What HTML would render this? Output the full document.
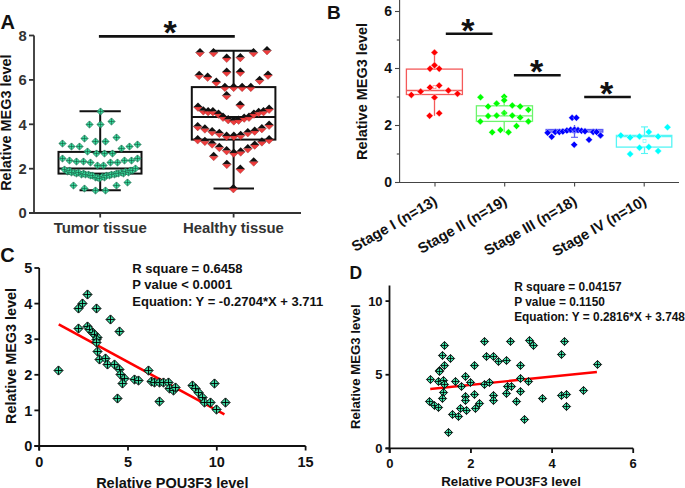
<!DOCTYPE html>
<html><head><meta charset="utf-8"><style>
html,body{margin:0;padding:0;background:#fff;}
svg{display:block;}
</style></head><body>
<svg width="685" height="488" viewBox="0 0 685 488" font-family="'Liberation Sans', sans-serif" font-weight="bold">
<rect width="685" height="488" fill="#fff"/>
<text x="0.6" y="28.8" font-size="20" text-anchor="start" fill="#111" >A</text>
<line x1="34" y1="35.5" x2="34" y2="213.8" stroke="#333" stroke-width="1.8" />
<line x1="29" y1="213.1" x2="34" y2="213.1" stroke="#333" stroke-width="1.8" />
<text x="26.8" y="218.29999999999998" font-size="14.8" text-anchor="end" fill="#333" >0</text>
<line x1="29" y1="168.7" x2="34" y2="168.7" stroke="#333" stroke-width="1.8" />
<text x="26.8" y="173.89999999999998" font-size="14.8" text-anchor="end" fill="#333" >2</text>
<line x1="29" y1="124.3" x2="34" y2="124.3" stroke="#333" stroke-width="1.8" />
<text x="26.8" y="129.5" font-size="14.8" text-anchor="end" fill="#333" >4</text>
<line x1="29" y1="79.9" x2="34" y2="79.9" stroke="#333" stroke-width="1.8" />
<text x="26.8" y="85.10000000000001" font-size="14.8" text-anchor="end" fill="#333" >6</text>
<line x1="29" y1="35.5" x2="34" y2="35.5" stroke="#333" stroke-width="1.8" />
<text x="26.8" y="40.7" font-size="14.8" text-anchor="end" fill="#333" >8</text>
<line x1="29" y1="213" x2="301" y2="213" stroke="#333" stroke-width="1.8" />
<line x1="100.2" y1="213" x2="100.2" y2="217.5" stroke="#333" stroke-width="1.8" />
<line x1="233.6" y1="213" x2="233.6" y2="217.5" stroke="#333" stroke-width="1.8" />
<text x="100.2" y="233.3" font-size="15" text-anchor="middle" fill="#333" >Tumor tissue</text>
<text x="233.4" y="233.2" font-size="14.9" text-anchor="middle" fill="#333" >Healthy tissue</text>
<text transform="translate(11.4,122.6) rotate(-90)" font-size="14.45" text-anchor="middle" fill="#111">Relative MEG3 level</text>
<line x1="98.9" y1="36.4" x2="234.8" y2="36.4" stroke="#111" stroke-width="2.8" />
<text x="170" y="43.7" font-size="34" text-anchor="middle" fill="#111" >*</text>
<rect x="58.5" y="151.9" width="83" height="21.7" fill="none" stroke="#111" stroke-width="2"/>
<line x1="58.5" y1="168.6" x2="141.5" y2="168.6" stroke="#111" stroke-width="2" />
<line x1="100.2" y1="111.3" x2="100.2" y2="151.9" stroke="#111" stroke-width="2" />
<line x1="100.2" y1="173.6" x2="100.2" y2="190.2" stroke="#111" stroke-width="2" />
<line x1="79.5" y1="111.3" x2="120.8" y2="111.3" stroke="#111" stroke-width="2" />
<line x1="79.5" y1="190.2" x2="120.8" y2="190.2" stroke="#111" stroke-width="2" />
<rect x="191.8" y="87.1" width="83.6" height="52.5" fill="none" stroke="#111" stroke-width="2"/>
<line x1="191.8" y1="117.1" x2="275.4" y2="117.1" stroke="#111" stroke-width="2" />
<line x1="233.6" y1="50.8" x2="233.6" y2="87.1" stroke="#111" stroke-width="2" />
<line x1="233.6" y1="139.6" x2="233.6" y2="188.5" stroke="#111" stroke-width="2" />
<line x1="213.5" y1="50.8" x2="254" y2="50.8" stroke="#111" stroke-width="2" />
<line x1="213.5" y1="188.5" x2="254" y2="188.5" stroke="#111" stroke-width="2" />
<polygon points="64.5,165.9 68.1,169.5 64.5,173.1 60.9,169.5" fill="#36db9c" stroke="#1d6e50" stroke-width="0.7"/>
<path d="M61.3 169.5H67.7M64.5 166.3V172.7" stroke="#1a5540" stroke-width="0.6"/>
<polygon points="67.5,167.9 71.1,171.5 67.5,175.1 63.9,171.5" fill="#36db9c" stroke="#1d6e50" stroke-width="0.7"/>
<path d="M64.3 171.5H70.7M67.5 168.3V174.7" stroke="#1a5540" stroke-width="0.6"/>
<polygon points="69.5,166.9 73.1,170.5 69.5,174.1 65.9,170.5" fill="#36db9c" stroke="#1d6e50" stroke-width="0.7"/>
<path d="M66.3 170.5H72.7M69.5 167.3V173.7" stroke="#1a5540" stroke-width="0.6"/>
<polygon points="71.5,168.9 75.1,172.5 71.5,176.1 67.9,172.5" fill="#36db9c" stroke="#1d6e50" stroke-width="0.7"/>
<path d="M68.3 172.5H74.7M71.5 169.3V175.7" stroke="#1a5540" stroke-width="0.6"/>
<polygon points="74.5,168.9 78.1,172.5 74.5,176.1 70.9,172.5" fill="#36db9c" stroke="#1d6e50" stroke-width="0.7"/>
<path d="M71.3 172.5H77.7M74.5 169.3V175.7" stroke="#1a5540" stroke-width="0.6"/>
<polygon points="76.5,169.9 80.1,173.5 76.5,177.1 72.9,173.5" fill="#36db9c" stroke="#1d6e50" stroke-width="0.7"/>
<path d="M73.3 173.5H79.7M76.5 170.3V176.7" stroke="#1a5540" stroke-width="0.6"/>
<polygon points="78.5,168.9 82.1,172.5 78.5,176.1 74.9,172.5" fill="#36db9c" stroke="#1d6e50" stroke-width="0.7"/>
<path d="M75.3 172.5H81.7M78.5 169.3V175.7" stroke="#1a5540" stroke-width="0.6"/>
<polygon points="81.5,170.9 85.1,174.5 81.5,178.1 77.9,174.5" fill="#36db9c" stroke="#1d6e50" stroke-width="0.7"/>
<path d="M78.3 174.5H84.7M81.5 171.3V177.7" stroke="#1a5540" stroke-width="0.6"/>
<polygon points="83.5,169.9 87.1,173.5 83.5,177.1 79.9,173.5" fill="#36db9c" stroke="#1d6e50" stroke-width="0.7"/>
<path d="M80.3 173.5H86.7M83.5 170.3V176.7" stroke="#1a5540" stroke-width="0.6"/>
<polygon points="85.5,170.9 89.1,174.5 85.5,178.1 81.9,174.5" fill="#36db9c" stroke="#1d6e50" stroke-width="0.7"/>
<path d="M82.3 174.5H88.7M85.5 171.3V177.7" stroke="#1a5540" stroke-width="0.6"/>
<polygon points="88.5,170.9 92.1,174.5 88.5,178.1 84.9,174.5" fill="#36db9c" stroke="#1d6e50" stroke-width="0.7"/>
<path d="M85.3 174.5H91.7M88.5 171.3V177.7" stroke="#1a5540" stroke-width="0.6"/>
<polygon points="90.5,171.9 94.1,175.5 90.5,179.1 86.9,175.5" fill="#36db9c" stroke="#1d6e50" stroke-width="0.7"/>
<path d="M87.3 175.5H93.7M90.5 172.3V178.7" stroke="#1a5540" stroke-width="0.6"/>
<polygon points="92.5,171.9 96.1,175.5 92.5,179.1 88.9,175.5" fill="#36db9c" stroke="#1d6e50" stroke-width="0.7"/>
<path d="M89.3 175.5H95.7M92.5 172.3V178.7" stroke="#1a5540" stroke-width="0.6"/>
<polygon points="95.5,173.9 99.1,177.5 95.5,181.1 91.9,177.5" fill="#36db9c" stroke="#1d6e50" stroke-width="0.7"/>
<path d="M92.3 177.5H98.7M95.5 174.3V180.7" stroke="#1a5540" stroke-width="0.6"/>
<polygon points="97.5,173.9 101.1,177.5 97.5,181.1 93.9,177.5" fill="#36db9c" stroke="#1d6e50" stroke-width="0.7"/>
<path d="M94.3 177.5H100.7M97.5 174.3V180.7" stroke="#1a5540" stroke-width="0.6"/>
<polygon points="99.5,174.9 103.1,178.5 99.5,182.1 95.9,178.5" fill="#36db9c" stroke="#1d6e50" stroke-width="0.7"/>
<path d="M96.3 178.5H102.7M99.5 175.3V181.7" stroke="#1a5540" stroke-width="0.6"/>
<polygon points="102.5,172.9 106.1,176.5 102.5,180.1 98.9,176.5" fill="#36db9c" stroke="#1d6e50" stroke-width="0.7"/>
<path d="M99.3 176.5H105.7M102.5 173.3V179.7" stroke="#1a5540" stroke-width="0.6"/>
<polygon points="104.5,173.9 108.1,177.5 104.5,181.1 100.9,177.5" fill="#36db9c" stroke="#1d6e50" stroke-width="0.7"/>
<path d="M101.3 177.5H107.7M104.5 174.3V180.7" stroke="#1a5540" stroke-width="0.6"/>
<polygon points="106.5,171.9 110.1,175.5 106.5,179.1 102.9,175.5" fill="#36db9c" stroke="#1d6e50" stroke-width="0.7"/>
<path d="M103.3 175.5H109.7M106.5 172.3V178.7" stroke="#1a5540" stroke-width="0.6"/>
<polygon points="109.5,171.9 113.1,175.5 109.5,179.1 105.9,175.5" fill="#36db9c" stroke="#1d6e50" stroke-width="0.7"/>
<path d="M106.3 175.5H112.7M109.5 172.3V178.7" stroke="#1a5540" stroke-width="0.6"/>
<polygon points="111.5,170.9 115.1,174.5 111.5,178.1 107.9,174.5" fill="#36db9c" stroke="#1d6e50" stroke-width="0.7"/>
<path d="M108.3 174.5H114.7M111.5 171.3V177.7" stroke="#1a5540" stroke-width="0.6"/>
<polygon points="114.5,170.9 118.1,174.5 114.5,178.1 110.9,174.5" fill="#36db9c" stroke="#1d6e50" stroke-width="0.7"/>
<path d="M111.3 174.5H117.7M114.5 171.3V177.7" stroke="#1a5540" stroke-width="0.6"/>
<polygon points="116.5,169.9 120.1,173.5 116.5,177.1 112.9,173.5" fill="#36db9c" stroke="#1d6e50" stroke-width="0.7"/>
<path d="M113.3 173.5H119.7M116.5 170.3V176.7" stroke="#1a5540" stroke-width="0.6"/>
<polygon points="118.5,169.9 122.1,173.5 118.5,177.1 114.9,173.5" fill="#36db9c" stroke="#1d6e50" stroke-width="0.7"/>
<path d="M115.3 173.5H121.7M118.5 170.3V176.7" stroke="#1a5540" stroke-width="0.6"/>
<polygon points="121.5,168.9 125.1,172.5 121.5,176.1 117.9,172.5" fill="#36db9c" stroke="#1d6e50" stroke-width="0.7"/>
<path d="M118.3 172.5H124.7M121.5 169.3V175.7" stroke="#1a5540" stroke-width="0.6"/>
<polygon points="123.5,169.9 127.1,173.5 123.5,177.1 119.9,173.5" fill="#36db9c" stroke="#1d6e50" stroke-width="0.7"/>
<path d="M120.3 173.5H126.7M123.5 170.3V176.7" stroke="#1a5540" stroke-width="0.6"/>
<polygon points="125.5,167.9 129.1,171.5 125.5,175.1 121.9,171.5" fill="#36db9c" stroke="#1d6e50" stroke-width="0.7"/>
<path d="M122.3 171.5H128.7M125.5 168.3V174.7" stroke="#1a5540" stroke-width="0.6"/>
<polygon points="128.5,168.9 132.1,172.5 128.5,176.1 124.9,172.5" fill="#36db9c" stroke="#1d6e50" stroke-width="0.7"/>
<path d="M125.3 172.5H131.7M128.5 169.3V175.7" stroke="#1a5540" stroke-width="0.6"/>
<polygon points="130.5,166.9 134.1,170.5 130.5,174.1 126.9,170.5" fill="#36db9c" stroke="#1d6e50" stroke-width="0.7"/>
<path d="M127.3 170.5H133.7M130.5 167.3V173.7" stroke="#1a5540" stroke-width="0.6"/>
<polygon points="132.5,166.9 136.1,170.5 132.5,174.1 128.9,170.5" fill="#36db9c" stroke="#1d6e50" stroke-width="0.7"/>
<path d="M129.3 170.5H135.7M132.5 167.3V173.7" stroke="#1a5540" stroke-width="0.6"/>
<polygon points="135.5,164.9 139.1,168.5 135.5,172.1 131.9,168.5" fill="#36db9c" stroke="#1d6e50" stroke-width="0.7"/>
<path d="M132.3 168.5H138.7M135.5 165.3V171.7" stroke="#1a5540" stroke-width="0.6"/>
<polygon points="100.5,107.9 104.1,111.5 100.5,115.1 96.9,111.5" fill="#36db9c" stroke="#1d6e50" stroke-width="0.7"/>
<path d="M97.3 111.5H103.7M100.5 108.3V114.7" stroke="#1a5540" stroke-width="0.6"/>
<polygon points="89.5,120.9 93.1,124.5 89.5,128.1 85.9,124.5" fill="#36db9c" stroke="#1d6e50" stroke-width="0.7"/>
<path d="M86.3 124.5H92.7M89.5 121.3V127.7" stroke="#1a5540" stroke-width="0.6"/>
<polygon points="100.5,120.9 104.1,124.5 100.5,128.1 96.9,124.5" fill="#36db9c" stroke="#1d6e50" stroke-width="0.7"/>
<path d="M97.3 124.5H103.7M100.5 121.3V127.7" stroke="#1a5540" stroke-width="0.6"/>
<polygon points="111.5,117.9 115.1,121.5 111.5,125.1 107.9,121.5" fill="#36db9c" stroke="#1d6e50" stroke-width="0.7"/>
<path d="M108.3 121.5H114.7M111.5 118.3V124.7" stroke="#1a5540" stroke-width="0.6"/>
<polygon points="84.5,134.9 88.1,138.5 84.5,142.1 80.9,138.5" fill="#36db9c" stroke="#1d6e50" stroke-width="0.7"/>
<path d="M81.3 138.5H87.7M84.5 135.3V141.7" stroke="#1a5540" stroke-width="0.6"/>
<polygon points="95.5,137.9 99.1,141.5 95.5,145.1 91.9,141.5" fill="#36db9c" stroke="#1d6e50" stroke-width="0.7"/>
<path d="M92.3 141.5H98.7M95.5 138.3V144.7" stroke="#1a5540" stroke-width="0.6"/>
<polygon points="105.5,137.9 109.1,141.5 105.5,145.1 101.9,141.5" fill="#36db9c" stroke="#1d6e50" stroke-width="0.7"/>
<path d="M102.3 141.5H108.7M105.5 138.3V144.7" stroke="#1a5540" stroke-width="0.6"/>
<polygon points="116.5,133.9 120.1,137.5 116.5,141.1 112.9,137.5" fill="#36db9c" stroke="#1d6e50" stroke-width="0.7"/>
<path d="M113.3 137.5H119.7M116.5 134.3V140.7" stroke="#1a5540" stroke-width="0.6"/>
<polygon points="62.5,139.9 66.1,143.5 62.5,147.1 58.9,143.5" fill="#36db9c" stroke="#1d6e50" stroke-width="0.7"/>
<path d="M59.3 143.5H65.7M62.5 140.3V146.7" stroke="#1a5540" stroke-width="0.6"/>
<polygon points="71.5,142.9 75.1,146.5 71.5,150.1 67.9,146.5" fill="#36db9c" stroke="#1d6e50" stroke-width="0.7"/>
<path d="M68.3 146.5H74.7M71.5 143.3V149.7" stroke="#1a5540" stroke-width="0.6"/>
<polygon points="79.5,142.9 83.1,146.5 79.5,150.1 75.9,146.5" fill="#36db9c" stroke="#1d6e50" stroke-width="0.7"/>
<path d="M76.3 146.5H82.7M79.5 143.3V149.7" stroke="#1a5540" stroke-width="0.6"/>
<polygon points="137.5,140.9 141.1,144.5 137.5,148.1 133.9,144.5" fill="#36db9c" stroke="#1d6e50" stroke-width="0.7"/>
<path d="M134.3 144.5H140.7M137.5 141.3V147.7" stroke="#1a5540" stroke-width="0.6"/>
<polygon points="129.5,142.9 133.1,146.5 129.5,150.1 125.9,146.5" fill="#36db9c" stroke="#1d6e50" stroke-width="0.7"/>
<path d="M126.3 146.5H132.7M129.5 143.3V149.7" stroke="#1a5540" stroke-width="0.6"/>
<polygon points="121.5,144.9 125.1,148.5 121.5,152.1 117.9,148.5" fill="#36db9c" stroke="#1d6e50" stroke-width="0.7"/>
<path d="M118.3 148.5H124.7M121.5 145.3V151.7" stroke="#1a5540" stroke-width="0.6"/>
<polygon points="87.5,147.9 91.1,151.5 87.5,155.1 83.9,151.5" fill="#36db9c" stroke="#1d6e50" stroke-width="0.7"/>
<path d="M84.3 151.5H90.7M87.5 148.3V154.7" stroke="#1a5540" stroke-width="0.6"/>
<polygon points="96.5,149.9 100.1,153.5 96.5,157.1 92.9,153.5" fill="#36db9c" stroke="#1d6e50" stroke-width="0.7"/>
<path d="M93.3 153.5H99.7M96.5 150.3V156.7" stroke="#1a5540" stroke-width="0.6"/>
<polygon points="104.5,149.9 108.1,153.5 104.5,157.1 100.9,153.5" fill="#36db9c" stroke="#1d6e50" stroke-width="0.7"/>
<path d="M101.3 153.5H107.7M104.5 150.3V156.7" stroke="#1a5540" stroke-width="0.6"/>
<polygon points="112.5,149.9 116.1,153.5 112.5,157.1 108.9,153.5" fill="#36db9c" stroke="#1d6e50" stroke-width="0.7"/>
<path d="M109.3 153.5H115.7M112.5 150.3V156.7" stroke="#1a5540" stroke-width="0.6"/>
<polygon points="62.5,154.9 66.1,158.5 62.5,162.1 58.9,158.5" fill="#36db9c" stroke="#1d6e50" stroke-width="0.7"/>
<path d="M59.3 158.5H65.7M62.5 155.3V161.7" stroke="#1a5540" stroke-width="0.6"/>
<polygon points="69.5,156.9 73.1,160.5 69.5,164.1 65.9,160.5" fill="#36db9c" stroke="#1d6e50" stroke-width="0.7"/>
<path d="M66.3 160.5H72.7M69.5 157.3V163.7" stroke="#1a5540" stroke-width="0.6"/>
<polygon points="76.5,157.9 80.1,161.5 76.5,165.1 72.9,161.5" fill="#36db9c" stroke="#1d6e50" stroke-width="0.7"/>
<path d="M73.3 161.5H79.7M76.5 158.3V164.7" stroke="#1a5540" stroke-width="0.6"/>
<polygon points="83.5,157.9 87.1,161.5 83.5,165.1 79.9,161.5" fill="#36db9c" stroke="#1d6e50" stroke-width="0.7"/>
<path d="M80.3 161.5H86.7M83.5 158.3V164.7" stroke="#1a5540" stroke-width="0.6"/>
<polygon points="90.5,158.9 94.1,162.5 90.5,166.1 86.9,162.5" fill="#36db9c" stroke="#1d6e50" stroke-width="0.7"/>
<path d="M87.3 162.5H93.7M90.5 159.3V165.7" stroke="#1a5540" stroke-width="0.6"/>
<polygon points="97.5,161.9 101.1,165.5 97.5,169.1 93.9,165.5" fill="#36db9c" stroke="#1d6e50" stroke-width="0.7"/>
<path d="M94.3 165.5H100.7M97.5 162.3V168.7" stroke="#1a5540" stroke-width="0.6"/>
<polygon points="103.5,161.9 107.1,165.5 103.5,169.1 99.9,165.5" fill="#36db9c" stroke="#1d6e50" stroke-width="0.7"/>
<path d="M100.3 165.5H106.7M103.5 162.3V168.7" stroke="#1a5540" stroke-width="0.6"/>
<polygon points="110.5,158.9 114.1,162.5 110.5,166.1 106.9,162.5" fill="#36db9c" stroke="#1d6e50" stroke-width="0.7"/>
<path d="M107.3 162.5H113.7M110.5 159.3V165.7" stroke="#1a5540" stroke-width="0.6"/>
<polygon points="117.5,158.9 121.1,162.5 117.5,166.1 113.9,162.5" fill="#36db9c" stroke="#1d6e50" stroke-width="0.7"/>
<path d="M114.3 162.5H120.7M117.5 159.3V165.7" stroke="#1a5540" stroke-width="0.6"/>
<polygon points="124.5,156.9 128.1,160.5 124.5,164.1 120.9,160.5" fill="#36db9c" stroke="#1d6e50" stroke-width="0.7"/>
<path d="M121.3 160.5H127.7M124.5 157.3V163.7" stroke="#1a5540" stroke-width="0.6"/>
<polygon points="131.5,156.9 135.1,160.5 131.5,164.1 127.9,160.5" fill="#36db9c" stroke="#1d6e50" stroke-width="0.7"/>
<path d="M128.3 160.5H134.7M131.5 157.3V163.7" stroke="#1a5540" stroke-width="0.6"/>
<polygon points="137.5,154.9 141.1,158.5 137.5,162.1 133.9,158.5" fill="#36db9c" stroke="#1d6e50" stroke-width="0.7"/>
<path d="M134.3 158.5H140.7M137.5 155.3V161.7" stroke="#1a5540" stroke-width="0.6"/>
<polygon points="73.5,181.9 77.1,185.5 73.5,189.1 69.9,185.5" fill="#36db9c" stroke="#1d6e50" stroke-width="0.7"/>
<path d="M70.3 185.5H76.7M73.5 182.3V188.7" stroke="#1a5540" stroke-width="0.6"/>
<polygon points="84.5,184.9 88.1,188.5 84.5,192.1 80.9,188.5" fill="#36db9c" stroke="#1d6e50" stroke-width="0.7"/>
<path d="M81.3 188.5H87.7M84.5 185.3V191.7" stroke="#1a5540" stroke-width="0.6"/>
<polygon points="95.5,186.9 99.1,190.5 95.5,194.1 91.9,190.5" fill="#36db9c" stroke="#1d6e50" stroke-width="0.7"/>
<path d="M92.3 190.5H98.7M95.5 187.3V193.7" stroke="#1a5540" stroke-width="0.6"/>
<polygon points="105.5,186.9 109.1,190.5 105.5,194.1 101.9,190.5" fill="#36db9c" stroke="#1d6e50" stroke-width="0.7"/>
<path d="M102.3 190.5H108.7M105.5 187.3V193.7" stroke="#1a5540" stroke-width="0.6"/>
<polygon points="116.5,181.9 120.1,185.5 116.5,189.1 112.9,185.5" fill="#36db9c" stroke="#1d6e50" stroke-width="0.7"/>
<path d="M113.3 185.5H119.7M116.5 182.3V188.7" stroke="#1a5540" stroke-width="0.6"/>
<polygon points="127.5,178.9 131.1,182.5 127.5,186.1 123.9,182.5" fill="#36db9c" stroke="#1d6e50" stroke-width="0.7"/>
<path d="M124.3 182.5H130.7M127.5 179.3V185.7" stroke="#1a5540" stroke-width="0.6"/>
<polygon points="195.5,52.5 200.0,48.0 204.5,52.5" fill="#111"/>
<polygon points="195.5,52.5 204.5,52.5 200.0,57.0" fill="#f03c3c" stroke="#7a2020" stroke-width="0.35"/>
<polygon points="209.0,52.5 213.5,48.0 218.0,52.5" fill="#111"/>
<polygon points="209.0,52.5 218.0,52.5 213.5,57.0" fill="#f03c3c" stroke="#7a2020" stroke-width="0.35"/>
<polygon points="222.2,58.1 226.7,53.6 231.2,58.1" fill="#111"/>
<polygon points="222.2,58.1 231.2,58.1 226.7,62.6" fill="#f03c3c" stroke="#7a2020" stroke-width="0.35"/>
<polygon points="235.8,57.4 240.3,52.9 244.8,57.4" fill="#111"/>
<polygon points="235.8,57.4 244.8,57.4 240.3,61.9" fill="#f03c3c" stroke="#7a2020" stroke-width="0.35"/>
<polygon points="249.0,52.5 253.5,48.0 258.0,52.5" fill="#111"/>
<polygon points="249.0,52.5 258.0,52.5 253.5,57.0" fill="#f03c3c" stroke="#7a2020" stroke-width="0.35"/>
<polygon points="262.5,50.4 267.0,45.9 271.5,50.4" fill="#111"/>
<polygon points="262.5,50.4 271.5,50.4 267.0,54.9" fill="#f03c3c" stroke="#7a2020" stroke-width="0.35"/>
<polygon points="194.7,75.3 199.2,70.8 203.7,75.3" fill="#111"/>
<polygon points="194.7,75.3 203.7,75.3 199.2,79.8" fill="#f03c3c" stroke="#7a2020" stroke-width="0.35"/>
<polygon points="203.1,77.0 207.6,72.5 212.1,77.0" fill="#111"/>
<polygon points="203.1,77.0 212.1,77.0 207.6,81.5" fill="#f03c3c" stroke="#7a2020" stroke-width="0.35"/>
<polygon points="211.8,82.0 216.3,77.5 220.8,82.0" fill="#111"/>
<polygon points="211.8,82.0 220.8,82.0 216.3,86.5" fill="#f03c3c" stroke="#7a2020" stroke-width="0.35"/>
<polygon points="222.2,72.1 226.7,67.6 231.2,72.1" fill="#111"/>
<polygon points="222.2,72.1 231.2,72.1 226.7,76.6" fill="#f03c3c" stroke="#7a2020" stroke-width="0.35"/>
<polygon points="235.8,72.1 240.3,67.6 244.8,72.1" fill="#111"/>
<polygon points="235.8,72.1 244.8,72.1 240.3,76.6" fill="#f03c3c" stroke="#7a2020" stroke-width="0.35"/>
<polygon points="255.1,80.2 259.6,75.7 264.1,80.2" fill="#111"/>
<polygon points="255.1,80.2 264.1,80.2 259.6,84.7" fill="#f03c3c" stroke="#7a2020" stroke-width="0.35"/>
<polygon points="263.5,75.0 268.0,70.5 272.5,75.0" fill="#111"/>
<polygon points="263.5,75.0 272.5,75.0 268.0,79.5" fill="#f03c3c" stroke="#7a2020" stroke-width="0.35"/>
<polygon points="220.4,87.2 224.9,82.7 229.4,87.2" fill="#111"/>
<polygon points="220.4,87.2 229.4,87.2 224.9,91.7" fill="#f03c3c" stroke="#7a2020" stroke-width="0.35"/>
<polygon points="229.2,87.2 233.7,82.7 238.2,87.2" fill="#111"/>
<polygon points="229.2,87.2 238.2,87.2 233.7,91.7" fill="#f03c3c" stroke="#7a2020" stroke-width="0.35"/>
<polygon points="237.6,87.2 242.1,82.7 246.6,87.2" fill="#111"/>
<polygon points="237.6,87.2 246.6,87.2 242.1,91.7" fill="#f03c3c" stroke="#7a2020" stroke-width="0.35"/>
<polygon points="246.3,87.2 250.8,82.7 255.3,87.2" fill="#111"/>
<polygon points="246.3,87.2 255.3,87.2 250.8,91.7" fill="#f03c3c" stroke="#7a2020" stroke-width="0.35"/>
<polygon points="222.1,95.4 226.6,90.9 231.1,95.4" fill="#111"/>
<polygon points="222.1,95.4 231.1,95.4 226.6,99.9" fill="#f03c3c" stroke="#7a2020" stroke-width="0.35"/>
<polygon points="235.7,105.1 240.2,100.6 244.7,105.1" fill="#111"/>
<polygon points="235.7,105.1 244.7,105.1 240.2,109.6" fill="#f03c3c" stroke="#7a2020" stroke-width="0.35"/>
<polygon points="193.5,107.0 198.0,102.5 202.5,107.0" fill="#111"/>
<polygon points="193.5,107.0 202.5,107.0 198.0,111.5" fill="#f03c3c" stroke="#7a2020" stroke-width="0.35"/>
<polygon points="198.8,110.7 203.3,106.2 207.8,110.7" fill="#111"/>
<polygon points="198.8,110.7 207.8,110.7 203.3,115.2" fill="#f03c3c" stroke="#7a2020" stroke-width="0.35"/>
<polygon points="203.6,111.5 208.1,107.0 212.6,111.5" fill="#111"/>
<polygon points="203.6,111.5 212.6,111.5 208.1,116.0" fill="#f03c3c" stroke="#7a2020" stroke-width="0.35"/>
<polygon points="208.4,111.5 212.9,107.0 217.4,111.5" fill="#111"/>
<polygon points="208.4,111.5 217.4,111.5 212.9,116.0" fill="#f03c3c" stroke="#7a2020" stroke-width="0.35"/>
<polygon points="214.0,113.9 218.5,109.4 223.0,113.9" fill="#111"/>
<polygon points="214.0,113.9 223.0,113.9 218.5,118.4" fill="#f03c3c" stroke="#7a2020" stroke-width="0.35"/>
<polygon points="218.5,117.1 223.0,112.6 227.5,117.1" fill="#111"/>
<polygon points="218.5,117.1 227.5,117.1 223.0,121.6" fill="#f03c3c" stroke="#7a2020" stroke-width="0.35"/>
<polygon points="223.7,119.5 228.2,115.0 232.7,119.5" fill="#111"/>
<polygon points="223.7,119.5 232.7,119.5 228.2,124.0" fill="#f03c3c" stroke="#7a2020" stroke-width="0.35"/>
<polygon points="229.3,120.7 233.8,116.2 238.3,120.7" fill="#111"/>
<polygon points="229.3,120.7 238.3,120.7 233.8,125.2" fill="#f03c3c" stroke="#7a2020" stroke-width="0.35"/>
<polygon points="234.1,120.0 238.6,115.5 243.1,120.0" fill="#111"/>
<polygon points="234.1,120.0 243.1,120.0 238.6,124.5" fill="#f03c3c" stroke="#7a2020" stroke-width="0.35"/>
<polygon points="239.7,117.9 244.2,113.4 248.7,117.9" fill="#111"/>
<polygon points="239.7,117.9 248.7,117.9 244.2,122.4" fill="#f03c3c" stroke="#7a2020" stroke-width="0.35"/>
<polygon points="244.5,117.1 249.0,112.6 253.5,117.1" fill="#111"/>
<polygon points="244.5,117.1 253.5,117.1 249.0,121.6" fill="#f03c3c" stroke="#7a2020" stroke-width="0.35"/>
<polygon points="249.4,113.9 253.9,109.4 258.4,113.9" fill="#111"/>
<polygon points="249.4,113.9 258.4,113.9 253.9,118.4" fill="#f03c3c" stroke="#7a2020" stroke-width="0.35"/>
<polygon points="254.2,112.3 258.7,107.8 263.2,112.3" fill="#111"/>
<polygon points="254.2,112.3 263.2,112.3 258.7,116.8" fill="#f03c3c" stroke="#7a2020" stroke-width="0.35"/>
<polygon points="259.0,111.5 263.5,107.0 268.0,111.5" fill="#111"/>
<polygon points="259.0,111.5 268.0,111.5 263.5,116.0" fill="#f03c3c" stroke="#7a2020" stroke-width="0.35"/>
<polygon points="264.6,109.1 269.1,104.6 273.6,109.1" fill="#111"/>
<polygon points="264.6,109.1 273.6,109.1 269.1,113.6" fill="#f03c3c" stroke="#7a2020" stroke-width="0.35"/>
<polygon points="193.2,126.4 197.7,121.9 202.2,126.4" fill="#111"/>
<polygon points="193.2,126.4 202.2,126.4 197.7,130.9" fill="#f03c3c" stroke="#7a2020" stroke-width="0.35"/>
<polygon points="200.4,128.8 204.9,124.3 209.4,128.8" fill="#111"/>
<polygon points="200.4,128.8 209.4,128.8 204.9,133.3" fill="#f03c3c" stroke="#7a2020" stroke-width="0.35"/>
<polygon points="207.6,131.6 212.1,127.1 216.6,131.6" fill="#111"/>
<polygon points="207.6,131.6 216.6,131.6 212.1,136.1" fill="#f03c3c" stroke="#7a2020" stroke-width="0.35"/>
<polygon points="214.8,133.2 219.3,128.7 223.8,133.2" fill="#111"/>
<polygon points="214.8,133.2 223.8,133.2 219.3,137.7" fill="#f03c3c" stroke="#7a2020" stroke-width="0.35"/>
<polygon points="222.1,136.1 226.6,131.6 231.1,136.1" fill="#111"/>
<polygon points="222.1,136.1 231.1,136.1 226.6,140.6" fill="#f03c3c" stroke="#7a2020" stroke-width="0.35"/>
<polygon points="229.3,136.1 233.8,131.6 238.3,136.1" fill="#111"/>
<polygon points="229.3,136.1 238.3,136.1 233.8,140.6" fill="#f03c3c" stroke="#7a2020" stroke-width="0.35"/>
<polygon points="236.2,135.3 240.7,130.8 245.2,135.3" fill="#111"/>
<polygon points="236.2,135.3 245.2,135.3 240.7,139.8" fill="#f03c3c" stroke="#7a2020" stroke-width="0.35"/>
<polygon points="243.3,132.5 247.8,128.0 252.3,132.5" fill="#111"/>
<polygon points="243.3,132.5 252.3,132.5 247.8,137.0" fill="#f03c3c" stroke="#7a2020" stroke-width="0.35"/>
<polygon points="250.2,130.9 254.7,126.4 259.2,130.9" fill="#111"/>
<polygon points="250.2,130.9 259.2,130.9 254.7,135.4" fill="#f03c3c" stroke="#7a2020" stroke-width="0.35"/>
<polygon points="257.4,128.4 261.9,123.9 266.4,128.4" fill="#111"/>
<polygon points="257.4,128.4 266.4,128.4 261.9,132.9" fill="#f03c3c" stroke="#7a2020" stroke-width="0.35"/>
<polygon points="264.6,125.1 269.1,120.6 273.6,125.1" fill="#111"/>
<polygon points="264.6,125.1 273.6,125.1 269.1,129.6" fill="#f03c3c" stroke="#7a2020" stroke-width="0.35"/>
<polygon points="193.2,139.6 197.7,135.1 202.2,139.6" fill="#111"/>
<polygon points="193.2,139.6 202.2,139.6 197.7,144.1" fill="#f03c3c" stroke="#7a2020" stroke-width="0.35"/>
<polygon points="200.4,141.2 204.9,136.7 209.4,141.2" fill="#111"/>
<polygon points="200.4,141.2 209.4,141.2 204.9,145.7" fill="#f03c3c" stroke="#7a2020" stroke-width="0.35"/>
<polygon points="207.6,143.8 212.1,139.3 216.6,143.8" fill="#111"/>
<polygon points="207.6,143.8 216.6,143.8 212.1,148.3" fill="#f03c3c" stroke="#7a2020" stroke-width="0.35"/>
<polygon points="214.8,147.3 219.3,142.8 223.8,147.3" fill="#111"/>
<polygon points="214.8,147.3 223.8,147.3 219.3,151.8" fill="#f03c3c" stroke="#7a2020" stroke-width="0.35"/>
<polygon points="222.1,150.5 226.6,146.0 231.1,150.5" fill="#111"/>
<polygon points="222.1,150.5 231.1,150.5 226.6,155.0" fill="#f03c3c" stroke="#7a2020" stroke-width="0.35"/>
<polygon points="229.3,152.9 233.8,148.4 238.3,152.9" fill="#111"/>
<polygon points="229.3,152.9 238.3,152.9 233.8,157.4" fill="#f03c3c" stroke="#7a2020" stroke-width="0.35"/>
<polygon points="236.2,151.8 240.7,147.3 245.2,151.8" fill="#111"/>
<polygon points="236.2,151.8 245.2,151.8 240.7,156.3" fill="#f03c3c" stroke="#7a2020" stroke-width="0.35"/>
<polygon points="243.3,148.6 247.8,144.1 252.3,148.6" fill="#111"/>
<polygon points="243.3,148.6 252.3,148.6 247.8,153.1" fill="#f03c3c" stroke="#7a2020" stroke-width="0.35"/>
<polygon points="250.2,144.9 254.7,140.4 259.2,144.9" fill="#111"/>
<polygon points="250.2,144.9 259.2,144.9 254.7,149.4" fill="#f03c3c" stroke="#7a2020" stroke-width="0.35"/>
<polygon points="257.4,141.7 261.9,137.2 266.4,141.7" fill="#111"/>
<polygon points="257.4,141.7 266.4,141.7 261.9,146.2" fill="#f03c3c" stroke="#7a2020" stroke-width="0.35"/>
<polygon points="264.6,139.6 269.1,135.1 273.6,139.6" fill="#111"/>
<polygon points="264.6,139.6 273.6,139.6 269.1,144.1" fill="#f03c3c" stroke="#7a2020" stroke-width="0.35"/>
<polygon points="209.2,156.3 213.7,151.8 218.2,156.3" fill="#111"/>
<polygon points="209.2,156.3 218.2,156.3 213.7,160.8" fill="#f03c3c" stroke="#7a2020" stroke-width="0.35"/>
<polygon points="222.3,164.2 226.8,159.7 231.3,164.2" fill="#111"/>
<polygon points="222.3,164.2 231.3,164.2 226.8,168.7" fill="#f03c3c" stroke="#7a2020" stroke-width="0.35"/>
<polygon points="235.8,169.1 240.3,164.6 244.8,169.1" fill="#111"/>
<polygon points="235.8,169.1 244.8,169.1 240.3,173.6" fill="#f03c3c" stroke="#7a2020" stroke-width="0.35"/>
<polygon points="249.2,161.8 253.7,157.3 258.2,161.8" fill="#111"/>
<polygon points="249.2,161.8 258.2,161.8 253.7,166.3" fill="#f03c3c" stroke="#7a2020" stroke-width="0.35"/>
<polygon points="228.9,188.5 233.4,184.0 237.9,188.5" fill="#111"/>
<polygon points="228.9,188.5 237.9,188.5 233.4,193.0" fill="#f03c3c" stroke="#7a2020" stroke-width="0.35"/>
<text x="327" y="19" font-size="19" text-anchor="start" fill="#111" >B</text>
<line x1="399.6" y1="0" x2="399.6" y2="182.5" stroke="#444" stroke-width="1.1" />
<line x1="395" y1="182.5" x2="399.6" y2="182.5" stroke="#444" stroke-width="1.1" />
<text x="392" y="187.3" font-size="14" text-anchor="end" fill="#111" >0</text>
<line x1="395" y1="125.5" x2="399.6" y2="125.5" stroke="#444" stroke-width="1.1" />
<text x="392" y="130.3" font-size="14" text-anchor="end" fill="#111" >2</text>
<line x1="395" y1="68.5" x2="399.6" y2="68.5" stroke="#444" stroke-width="1.1" />
<text x="392" y="73.3" font-size="14" text-anchor="end" fill="#111" >4</text>
<line x1="395" y1="11.5" x2="399.6" y2="11.5" stroke="#444" stroke-width="1.1" />
<text x="392" y="16.3" font-size="14" text-anchor="end" fill="#111" >6</text>
<line x1="396.8" y1="154.0" x2="399.6" y2="154.0" stroke="#444" stroke-width="1.1" />
<line x1="396.8" y1="97.0" x2="399.6" y2="97.0" stroke="#444" stroke-width="1.1" />
<line x1="396.8" y1="40.0" x2="399.6" y2="40.0" stroke="#444" stroke-width="1.1" />
<line x1="395" y1="182.5" x2="679" y2="182.5" stroke="#444" stroke-width="1.1" />
<line x1="435.0" y1="182.5" x2="435.0" y2="186.5" stroke="#444" stroke-width="1.1" />
<line x1="504.7" y1="182.5" x2="504.7" y2="186.5" stroke="#444" stroke-width="1.1" />
<line x1="574.6" y1="182.5" x2="574.6" y2="186.5" stroke="#444" stroke-width="1.1" />
<line x1="644.2" y1="182.5" x2="644.2" y2="186.5" stroke="#444" stroke-width="1.1" />
<text transform="translate(366.6,91.4) rotate(-90)" font-size="14.5" text-anchor="middle" fill="#111">Relative MEG3 level</text>
<text transform="translate(438.3,204) rotate(-30)" font-size="14.7" text-anchor="end" fill="#111">Stage I (n=13)</text>
<text transform="translate(508.0,204) rotate(-30)" font-size="14.7" text-anchor="end" fill="#111">Stage II (n=19)</text>
<text transform="translate(577.9,204) rotate(-30)" font-size="14.7" text-anchor="end" fill="#111">Stage III (n=18)</text>
<text transform="translate(647.5,204) rotate(-30)" font-size="14.7" text-anchor="end" fill="#111">Stage IV (n=10)</text>
<line x1="445.8" y1="33.8" x2="492.5" y2="33.8" stroke="#111" stroke-width="2.4" />
<text x="467.8" y="41.599999999999994" font-size="34" text-anchor="middle" fill="#111" >*</text>
<line x1="513.9" y1="75.3" x2="560.7" y2="75.3" stroke="#111" stroke-width="2.4" />
<text x="536.5" y="83.1" font-size="34" text-anchor="middle" fill="#111" >*</text>
<line x1="584.2" y1="97" x2="630.8" y2="97" stroke="#111" stroke-width="2.4" />
<text x="606.5" y="104.8" font-size="34" text-anchor="middle" fill="#111" >*</text>
<rect x="406.4" y="69.1" width="56.0" height="25.400000000000006" fill="none" stroke="#f45a5a" stroke-width="1.3"/>
<line x1="406.4" y1="90.5" x2="462.4" y2="90.5" stroke="#f45a5a" stroke-width="1.3" />
<line x1="434.5" y1="52.5" x2="434.5" y2="69.1" stroke="#f45a5a" stroke-width="1.3" />
<line x1="434.5" y1="94.5" x2="434.5" y2="115.8" stroke="#f45a5a" stroke-width="1.3" />
<polygon points="434.5,49.0 438.0,52.5 434.5,56.0 431.0,52.5" fill="#ff0000" stroke="#fff" stroke-width="0.4"/>
<polygon points="434.5,61.8 438.0,65.3 434.5,68.8 431.0,65.3" fill="#ff0000" stroke="#fff" stroke-width="0.4"/>
<polygon points="430.0,65.3 433.5,68.8 430.0,72.3 426.5,68.8" fill="#ff0000" stroke="#fff" stroke-width="0.4"/>
<polygon points="439.2,65.3 442.7,68.8 439.2,72.3 435.7,68.8" fill="#ff0000" stroke="#fff" stroke-width="0.4"/>
<polygon points="430.0,83.9 433.5,87.4 430.0,90.9 426.5,87.4" fill="#ff0000" stroke="#fff" stroke-width="0.4"/>
<polygon points="439.2,82.1 442.7,85.6 439.2,89.1 435.7,85.6" fill="#ff0000" stroke="#fff" stroke-width="0.4"/>
<polygon points="420.6,88.1 424.1,91.6 420.6,95.1 417.1,91.6" fill="#ff0000" stroke="#fff" stroke-width="0.4"/>
<polygon points="448.4,87.0 451.9,90.5 448.4,94.0 444.9,90.5" fill="#ff0000" stroke="#fff" stroke-width="0.4"/>
<polygon points="411.3,91.4 414.8,94.9 411.3,98.4 407.8,94.9" fill="#ff0000" stroke="#fff" stroke-width="0.4"/>
<polygon points="457.5,90.2 461.0,93.7 457.5,97.2 454.0,93.7" fill="#ff0000" stroke="#fff" stroke-width="0.4"/>
<polygon points="434.5,94.0 438.0,97.5 434.5,101.0 431.0,97.5" fill="#ff0000" stroke="#fff" stroke-width="0.4"/>
<polygon points="429.6,112.3 433.1,115.8 429.6,119.3 426.1,115.8" fill="#ff0000" stroke="#fff" stroke-width="0.4"/>
<polygon points="439.2,109.7 442.7,113.2 439.2,116.7 435.7,113.2" fill="#ff0000" stroke="#fff" stroke-width="0.4"/>
<rect x="476.4" y="105.8" width="56.10000000000002" height="15.600000000000009" fill="none" stroke="#6cf56c" stroke-width="1.3"/>
<line x1="476.4" y1="115.9" x2="532.5" y2="115.9" stroke="#6cf56c" stroke-width="1.3" />
<line x1="504.2" y1="96.7" x2="504.2" y2="105.8" stroke="#6cf56c" stroke-width="1.3" />
<line x1="504.2" y1="121.4" x2="504.2" y2="132.3" stroke="#6cf56c" stroke-width="1.3" />
<polygon points="480.5,93.8 484.0,97.3 480.5,100.8 477.0,97.3" fill="#00ff00" stroke="#fff" stroke-width="0.4"/>
<polygon points="504.2,93.2 507.7,96.7 504.2,100.2 500.7,96.7" fill="#00ff00" stroke="#fff" stroke-width="0.4"/>
<polygon points="504.2,96.7 507.7,100.2 504.2,103.7 500.7,100.2" fill="#00ff00" stroke="#fff" stroke-width="0.4"/>
<polygon points="496.6,100.0 500.1,103.5 496.6,107.0 493.1,103.5" fill="#00ff00" stroke="#fff" stroke-width="0.4"/>
<polygon points="488.1,102.9 491.6,106.4 488.1,109.9 484.6,106.4" fill="#00ff00" stroke="#fff" stroke-width="0.4"/>
<polygon points="512.3,101.9 515.8,105.4 512.3,108.9 508.8,105.4" fill="#00ff00" stroke="#fff" stroke-width="0.4"/>
<polygon points="520.2,102.9 523.7,106.4 520.2,109.9 516.7,106.4" fill="#00ff00" stroke="#fff" stroke-width="0.4"/>
<polygon points="528.4,106.3 531.9,109.8 528.4,113.3 524.9,109.8" fill="#00ff00" stroke="#fff" stroke-width="0.4"/>
<polygon points="504.2,109.5 507.7,113.0 504.2,116.5 500.7,113.0" fill="#00ff00" stroke="#fff" stroke-width="0.4"/>
<polygon points="488.1,112.5 491.6,116.0 488.1,119.5 484.6,116.0" fill="#00ff00" stroke="#fff" stroke-width="0.4"/>
<polygon points="496.6,112.1 500.1,115.6 496.6,119.1 493.1,115.6" fill="#00ff00" stroke="#fff" stroke-width="0.4"/>
<polygon points="512.3,112.1 515.8,115.6 512.3,119.1 508.8,115.6" fill="#00ff00" stroke="#fff" stroke-width="0.4"/>
<polygon points="520.2,114.0 523.7,117.5 520.2,121.0 516.7,117.5" fill="#00ff00" stroke="#fff" stroke-width="0.4"/>
<polygon points="480.3,117.9 483.8,121.4 480.3,124.9 476.8,121.4" fill="#00ff00" stroke="#fff" stroke-width="0.4"/>
<polygon points="528.4,117.9 531.9,121.4 528.4,124.9 524.9,121.4" fill="#00ff00" stroke="#fff" stroke-width="0.4"/>
<polygon points="516.5,122.6 520.0,126.1 516.5,129.6 513.0,126.1" fill="#00ff00" stroke="#fff" stroke-width="0.4"/>
<polygon points="492.2,128.8 495.7,132.3 492.2,135.8 488.7,132.3" fill="#00ff00" stroke="#fff" stroke-width="0.4"/>
<polygon points="500.4,126.5 503.9,130.0 500.4,133.5 496.9,130.0" fill="#00ff00" stroke="#fff" stroke-width="0.4"/>
<polygon points="508.5,128.8 512.0,132.3 508.5,135.8 505.0,132.3" fill="#00ff00" stroke="#fff" stroke-width="0.4"/>
<rect x="546.1" y="129.5" width="56.69999999999993" height="2.5999999999999943" fill="none" stroke="#5a5af5" stroke-width="1.3"/>
<line x1="546.1" y1="131.0" x2="602.8" y2="131.0" stroke="#5a5af5" stroke-width="1.3" />
<line x1="574.5" y1="125" x2="574.5" y2="129.5" stroke="#5a5af5" stroke-width="1.3" />
<line x1="574.5" y1="132.1" x2="574.5" y2="137.3" stroke="#5a5af5" stroke-width="1.3" />
<line x1="571.0" y1="137.3" x2="578.0" y2="137.3" stroke="#5a5af5" stroke-width="1.1" />
<polygon points="572.1,114.3 575.6,117.8 572.1,121.3 568.6,117.8" fill="#0000ff" stroke="#fff" stroke-width="0.4"/>
<polygon points="576.4,114.3 579.9,117.8 576.4,121.3 572.9,117.8" fill="#0000ff" stroke="#fff" stroke-width="0.4"/>
<polygon points="547.6,129.3 551.1,132.8 547.6,136.3 544.1,132.8" fill="#0000ff" stroke="#fff" stroke-width="0.4"/>
<polygon points="555.2,128.6 558.7,132.1 555.2,135.6 551.7,132.1" fill="#0000ff" stroke="#fff" stroke-width="0.4"/>
<polygon points="559.3,128.6 562.8,132.1 559.3,135.6 555.8,132.1" fill="#0000ff" stroke="#fff" stroke-width="0.4"/>
<polygon points="562.8,128.1 566.3,131.6 562.8,135.1 559.3,131.6" fill="#0000ff" stroke="#fff" stroke-width="0.4"/>
<polygon points="566.9,127.1 570.4,130.6 566.9,134.1 563.4,130.6" fill="#0000ff" stroke="#fff" stroke-width="0.4"/>
<polygon points="570.6,126.2 574.1,129.7 570.6,133.2 567.1,129.7" fill="#0000ff" stroke="#fff" stroke-width="0.4"/>
<polygon points="574.5,126.1 578.0,129.6 574.5,133.1 571.0,129.6" fill="#0000ff" stroke="#fff" stroke-width="0.4"/>
<polygon points="578.0,126.6 581.5,130.1 578.0,133.6 574.5,130.1" fill="#0000ff" stroke="#fff" stroke-width="0.4"/>
<polygon points="581.5,127.3 585.0,130.8 581.5,134.3 578.0,130.8" fill="#0000ff" stroke="#fff" stroke-width="0.4"/>
<polygon points="585.0,127.8 588.5,131.3 585.0,134.8 581.5,131.3" fill="#0000ff" stroke="#fff" stroke-width="0.4"/>
<polygon points="593.1,128.6 596.6,132.1 593.1,135.6 589.6,132.1" fill="#0000ff" stroke="#fff" stroke-width="0.4"/>
<polygon points="596.6,128.6 600.1,132.1 596.6,135.6 593.1,132.1" fill="#0000ff" stroke="#fff" stroke-width="0.4"/>
<polygon points="551.7,133.3 555.2,136.8 551.7,140.3 548.2,136.8" fill="#0000ff" stroke="#fff" stroke-width="0.4"/>
<polygon points="600.5,131.9 604.0,135.4 600.5,138.9 597.0,135.4" fill="#0000ff" stroke="#fff" stroke-width="0.4"/>
<polygon points="589.0,136.3 592.5,139.8 589.0,143.3 585.5,139.8" fill="#0000ff" stroke="#fff" stroke-width="0.4"/>
<polygon points="574.2,141.2 577.7,144.7 574.2,148.2 570.7,144.7" fill="#0000ff" stroke="#fff" stroke-width="0.4"/>
<rect x="616.4" y="135.4" width="55.39999999999998" height="11.699999999999989" fill="none" stroke="#55f5f5" stroke-width="1.3"/>
<line x1="616.4" y1="136.6" x2="671.8" y2="136.6" stroke="#55f5f5" stroke-width="1.3" />
<line x1="644.5" y1="126.9" x2="644.5" y2="135.4" stroke="#55f5f5" stroke-width="1.3" />
<line x1="644.5" y1="147.1" x2="644.5" y2="153.5" stroke="#55f5f5" stroke-width="1.3" />
<line x1="641.0" y1="126.9" x2="648.0" y2="126.9" stroke="#55f5f5" stroke-width="1.1" />
<line x1="641.0" y1="153.5" x2="648.0" y2="153.5" stroke="#55f5f5" stroke-width="1.1" />
<polygon points="667.5,123.8 671.0,127.3 667.5,130.8 664.0,127.3" fill="#00ffff" stroke="#fff" stroke-width="0.4"/>
<polygon points="648.8,128.4 652.3,131.9 648.8,135.4 645.3,131.9" fill="#00ffff" stroke="#fff" stroke-width="0.4"/>
<polygon points="620.8,131.9 624.3,135.4 620.8,138.9 617.3,135.4" fill="#00ffff" stroke="#fff" stroke-width="0.4"/>
<polygon points="630.1,133.9 633.6,137.4 630.1,140.9 626.6,137.4" fill="#00ffff" stroke="#fff" stroke-width="0.4"/>
<polygon points="639.5,132.9 643.0,136.4 639.5,139.9 636.0,136.4" fill="#00ffff" stroke="#fff" stroke-width="0.4"/>
<polygon points="658.1,133.1 661.6,136.6 658.1,140.1 654.6,136.6" fill="#00ffff" stroke="#fff" stroke-width="0.4"/>
<polygon points="639.5,144.2 643.0,147.7 639.5,151.2 636.0,147.7" fill="#00ffff" stroke="#fff" stroke-width="0.4"/>
<polygon points="648.8,143.6 652.3,147.1 648.8,150.6 645.3,147.1" fill="#00ffff" stroke="#fff" stroke-width="0.4"/>
<polygon points="658.1,147.5 661.6,151.0 658.1,154.5 654.6,151.0" fill="#00ffff" stroke="#fff" stroke-width="0.4"/>
<polygon points="630.1,150.6 633.6,154.1 630.1,157.6 626.6,154.1" fill="#00ffff" stroke="#fff" stroke-width="0.4"/>
<rect x="433.0" y="85.7" width="3" height="3" fill="none" stroke="#f66" stroke-width="0.6"/>
<rect x="502.8" y="112.0" width="3" height="3" fill="none" stroke="#6f6" stroke-width="0.6"/>
<rect x="572.9" y="130.0" width="3" height="3" fill="none" stroke="#66f" stroke-width="0.6"/>
<rect x="643.0" y="139.4" width="3" height="3" fill="none" stroke="#6ff" stroke-width="0.6"/>
<text x="0.3" y="262" font-size="20" text-anchor="start" fill="#111" >C</text>
<line x1="39.2" y1="268" x2="39.2" y2="450.5" stroke="#111" stroke-width="1.8" />
<line x1="34.4" y1="446.0" x2="39.2" y2="446.0" stroke="#111" stroke-width="1.8" />
<text x="32.3" y="451.1" font-size="14.5" text-anchor="end" fill="#111" >0</text>
<line x1="34.4" y1="410.4" x2="39.2" y2="410.4" stroke="#111" stroke-width="1.8" />
<text x="32.3" y="415.5" font-size="14.5" text-anchor="end" fill="#111" >1</text>
<line x1="34.4" y1="374.8" x2="39.2" y2="374.8" stroke="#111" stroke-width="1.8" />
<text x="32.3" y="379.90000000000003" font-size="14.5" text-anchor="end" fill="#111" >2</text>
<line x1="34.4" y1="339.2" x2="39.2" y2="339.2" stroke="#111" stroke-width="1.8" />
<text x="32.3" y="344.3" font-size="14.5" text-anchor="end" fill="#111" >3</text>
<line x1="34.4" y1="303.6" x2="39.2" y2="303.6" stroke="#111" stroke-width="1.8" />
<text x="32.3" y="308.70000000000005" font-size="14.5" text-anchor="end" fill="#111" >4</text>
<line x1="34.4" y1="268.0" x2="39.2" y2="268.0" stroke="#111" stroke-width="1.8" />
<text x="32.3" y="273.1" font-size="14.5" text-anchor="end" fill="#111" >5</text>
<line x1="34.4" y1="446" x2="305.6" y2="446" stroke="#111" stroke-width="1.8" />
<line x1="39.2" y1="446" x2="39.2" y2="450.5" stroke="#111" stroke-width="1.8" />
<text x="39.2" y="467.2" font-size="14.5" text-anchor="middle" fill="#111" >0</text>
<line x1="128.0" y1="446" x2="128.0" y2="450.5" stroke="#111" stroke-width="1.8" />
<text x="128.0" y="467.2" font-size="14.5" text-anchor="middle" fill="#111" >5</text>
<line x1="216.8" y1="446" x2="216.8" y2="450.5" stroke="#111" stroke-width="1.8" />
<text x="216.8" y="467.2" font-size="14.5" text-anchor="middle" fill="#111" >10</text>
<line x1="305.6" y1="446" x2="305.6" y2="450.5" stroke="#111" stroke-width="1.8" />
<text x="305.6" y="467.2" font-size="14.5" text-anchor="middle" fill="#111" >15</text>
<text x="172.3" y="487.6" font-size="14.5" text-anchor="middle" fill="#111" >Relative POU3F3 level</text>
<text transform="translate(15.9,356.0) rotate(-90)" font-size="14.4" text-anchor="middle" fill="#111">Relative MEG3 level</text>
<text x="132.3" y="273.4" font-size="13" text-anchor="start" fill="#111" >R square = 0.6458</text>
<text x="132.3" y="289.3" font-size="13" text-anchor="start" fill="#111" >P value &lt; 0.0001</text>
<text x="132.3" y="305.6" font-size="13" text-anchor="start" fill="#111" >Equation: Y = -0.2704*X + 3.711</text>
<line x1="58.736000000000004" y1="324.477264" x2="224.4368" y2="414.29008319999997" stroke="#f00" stroke-width="2.6" />
<polygon points="87.5,289.9 92.0,294.5 87.5,299.1 83.0,294.5" fill="#3ad9a0" stroke="#000" stroke-width="1.0"/>
<path d="M83.4 294.5H91.6M87.5 290.4V298.6" stroke="#000" stroke-width="0.9"/>
<polygon points="82.5,298.9 87.0,303.5 82.5,308.1 78.0,303.5" fill="#3ad9a0" stroke="#000" stroke-width="1.0"/>
<path d="M78.4 303.5H86.6M82.5 299.4V307.6" stroke="#000" stroke-width="0.9"/>
<polygon points="78.5,303.9 83.0,308.5 78.5,313.1 74.0,308.5" fill="#3ad9a0" stroke="#000" stroke-width="1.0"/>
<path d="M74.4 308.5H82.6M78.5 304.4V312.6" stroke="#000" stroke-width="0.9"/>
<polygon points="96.5,303.9 101.0,308.5 96.5,313.1 92.0,308.5" fill="#3ad9a0" stroke="#000" stroke-width="1.0"/>
<path d="M92.4 308.5H100.6M96.5 304.4V312.6" stroke="#000" stroke-width="0.9"/>
<polygon points="110.5,314.9 115.0,319.5 110.5,324.1 106.0,319.5" fill="#3ad9a0" stroke="#000" stroke-width="1.0"/>
<path d="M106.4 319.5H114.6M110.5 315.4V323.6" stroke="#000" stroke-width="0.9"/>
<polygon points="119.5,326.9 124.0,331.5 119.5,336.1 115.0,331.5" fill="#3ad9a0" stroke="#000" stroke-width="1.0"/>
<path d="M115.4 331.5H123.6M119.5 327.4V335.6" stroke="#000" stroke-width="0.9"/>
<polygon points="78.5,323.9 83.0,328.5 78.5,333.1 74.0,328.5" fill="#3ad9a0" stroke="#000" stroke-width="1.0"/>
<path d="M74.4 328.5H82.6M78.5 324.4V332.6" stroke="#000" stroke-width="0.9"/>
<polygon points="87.5,321.9 92.0,326.5 87.5,331.1 83.0,326.5" fill="#3ad9a0" stroke="#000" stroke-width="1.0"/>
<path d="M83.4 326.5H91.6M87.5 322.4V330.6" stroke="#000" stroke-width="0.9"/>
<polygon points="89.5,324.9 94.0,329.5 89.5,334.1 85.0,329.5" fill="#3ad9a0" stroke="#000" stroke-width="1.0"/>
<path d="M85.4 329.5H93.6M89.5 325.4V333.6" stroke="#000" stroke-width="0.9"/>
<polygon points="92.5,327.9 97.0,332.5 92.5,337.1 88.0,332.5" fill="#3ad9a0" stroke="#000" stroke-width="1.0"/>
<path d="M88.4 332.5H96.6M92.5 328.4V336.6" stroke="#000" stroke-width="0.9"/>
<polygon points="94.5,329.9 99.0,334.5 94.5,339.1 90.0,334.5" fill="#3ad9a0" stroke="#000" stroke-width="1.0"/>
<path d="M90.4 334.5H98.6M94.5 330.4V338.6" stroke="#000" stroke-width="0.9"/>
<polygon points="97.5,332.9 102.0,337.5 97.5,342.1 93.0,337.5" fill="#3ad9a0" stroke="#000" stroke-width="1.0"/>
<path d="M93.4 337.5H101.6M97.5 333.4V341.6" stroke="#000" stroke-width="0.9"/>
<polygon points="96.5,334.9 101.0,339.5 96.5,344.1 92.0,339.5" fill="#3ad9a0" stroke="#000" stroke-width="1.0"/>
<path d="M92.4 339.5H100.6M96.5 335.4V343.6" stroke="#000" stroke-width="0.9"/>
<polygon points="96.5,337.9 101.0,342.5 96.5,347.1 92.0,342.5" fill="#3ad9a0" stroke="#000" stroke-width="1.0"/>
<path d="M92.4 342.5H100.6M96.5 338.4V346.6" stroke="#000" stroke-width="0.9"/>
<polygon points="97.5,346.9 102.0,351.5 97.5,356.1 93.0,351.5" fill="#3ad9a0" stroke="#000" stroke-width="1.0"/>
<path d="M93.4 351.5H101.6M97.5 347.4V355.6" stroke="#000" stroke-width="0.9"/>
<polygon points="99.5,354.9 104.0,359.5 99.5,364.1 95.0,359.5" fill="#3ad9a0" stroke="#000" stroke-width="1.0"/>
<path d="M95.4 359.5H103.6M99.5 355.4V363.6" stroke="#000" stroke-width="0.9"/>
<polygon points="105.5,353.9 110.0,358.5 105.5,363.1 101.0,358.5" fill="#3ad9a0" stroke="#000" stroke-width="1.0"/>
<path d="M101.4 358.5H109.6M105.5 354.4V362.6" stroke="#000" stroke-width="0.9"/>
<polygon points="107.5,359.9 112.0,364.5 107.5,369.1 103.0,364.5" fill="#3ad9a0" stroke="#000" stroke-width="1.0"/>
<path d="M103.4 364.5H111.6M107.5 360.4V368.6" stroke="#000" stroke-width="0.9"/>
<polygon points="114.5,359.9 119.0,364.5 114.5,369.1 110.0,364.5" fill="#3ad9a0" stroke="#000" stroke-width="1.0"/>
<path d="M110.4 364.5H118.6M114.5 360.4V368.6" stroke="#000" stroke-width="0.9"/>
<polygon points="119.5,364.9 124.0,369.5 119.5,374.1 115.0,369.5" fill="#3ad9a0" stroke="#000" stroke-width="1.0"/>
<path d="M115.4 369.5H123.6M119.5 365.4V373.6" stroke="#000" stroke-width="0.9"/>
<polygon points="120.5,369.9 125.0,374.5 120.5,379.1 116.0,374.5" fill="#3ad9a0" stroke="#000" stroke-width="1.0"/>
<path d="M116.4 374.5H124.6M120.5 370.4V378.6" stroke="#000" stroke-width="0.9"/>
<polygon points="124.5,373.9 129.1,378.5 124.5,383.1 120.0,378.5" fill="#3ad9a0" stroke="#000" stroke-width="1.0"/>
<path d="M120.4 378.5H128.6M124.5 374.4V382.6" stroke="#000" stroke-width="0.9"/>
<polygon points="122.5,378.9 127.0,383.5 122.5,388.1 118.0,383.5" fill="#3ad9a0" stroke="#000" stroke-width="1.0"/>
<path d="M118.4 383.5H126.6M122.5 379.4V387.6" stroke="#000" stroke-width="0.9"/>
<polygon points="58.5,365.9 63.0,370.5 58.5,375.1 54.0,370.5" fill="#3ad9a0" stroke="#000" stroke-width="1.0"/>
<path d="M54.4 370.5H62.6M58.5 366.4V374.6" stroke="#000" stroke-width="0.9"/>
<polygon points="117.5,393.9 122.0,398.5 117.5,403.1 113.0,398.5" fill="#3ad9a0" stroke="#000" stroke-width="1.0"/>
<path d="M113.4 398.5H121.6M117.5 394.4V402.6" stroke="#000" stroke-width="0.9"/>
<polygon points="134.5,374.9 139.1,379.5 134.5,384.1 129.9,379.5" fill="#3ad9a0" stroke="#000" stroke-width="1.0"/>
<path d="M130.4 379.5H138.6M134.5 375.4V383.6" stroke="#000" stroke-width="0.9"/>
<polygon points="138.5,375.9 143.1,380.5 138.5,385.1 133.9,380.5" fill="#3ad9a0" stroke="#000" stroke-width="1.0"/>
<path d="M134.4 380.5H142.6M138.5 376.4V384.6" stroke="#000" stroke-width="0.9"/>
<polygon points="148.5,365.9 153.1,370.5 148.5,375.1 143.9,370.5" fill="#3ad9a0" stroke="#000" stroke-width="1.0"/>
<path d="M144.4 370.5H152.6M148.5 366.4V374.6" stroke="#000" stroke-width="0.9"/>
<polygon points="151.5,376.9 156.1,381.5 151.5,386.1 146.9,381.5" fill="#3ad9a0" stroke="#000" stroke-width="1.0"/>
<path d="M147.4 381.5H155.6M151.5 377.4V385.6" stroke="#000" stroke-width="0.9"/>
<polygon points="154.5,377.9 159.1,382.5 154.5,387.1 149.9,382.5" fill="#3ad9a0" stroke="#000" stroke-width="1.0"/>
<path d="M150.4 382.5H158.6M154.5 378.4V386.6" stroke="#000" stroke-width="0.9"/>
<polygon points="159.5,377.9 164.1,382.5 159.5,387.1 154.9,382.5" fill="#3ad9a0" stroke="#000" stroke-width="1.0"/>
<path d="M155.4 382.5H163.6M159.5 378.4V386.6" stroke="#000" stroke-width="0.9"/>
<polygon points="163.5,377.9 168.1,382.5 163.5,387.1 158.9,382.5" fill="#3ad9a0" stroke="#000" stroke-width="1.0"/>
<path d="M159.4 382.5H167.6M163.5 378.4V386.6" stroke="#000" stroke-width="0.9"/>
<polygon points="168.5,377.9 173.1,382.5 168.5,387.1 163.9,382.5" fill="#3ad9a0" stroke="#000" stroke-width="1.0"/>
<path d="M164.4 382.5H172.6M168.5 378.4V386.6" stroke="#000" stroke-width="0.9"/>
<polygon points="169.5,383.9 174.1,388.5 169.5,393.1 164.9,388.5" fill="#3ad9a0" stroke="#000" stroke-width="1.0"/>
<path d="M165.4 388.5H173.6M169.5 384.4V392.6" stroke="#000" stroke-width="0.9"/>
<polygon points="173.5,385.9 178.1,390.5 173.5,395.1 168.9,390.5" fill="#3ad9a0" stroke="#000" stroke-width="1.0"/>
<path d="M169.4 390.5H177.6M173.5 386.4V394.6" stroke="#000" stroke-width="0.9"/>
<polygon points="175.5,382.9 180.1,387.5 175.5,392.1 170.9,387.5" fill="#3ad9a0" stroke="#000" stroke-width="1.0"/>
<path d="M171.4 387.5H179.6M175.5 383.4V391.6" stroke="#000" stroke-width="0.9"/>
<polygon points="159.5,396.9 164.1,401.5 159.5,406.1 154.9,401.5" fill="#3ad9a0" stroke="#000" stroke-width="1.0"/>
<path d="M155.4 401.5H163.6M159.5 397.4V405.6" stroke="#000" stroke-width="0.9"/>
<polygon points="192.5,380.9 197.1,385.5 192.5,390.1 187.9,385.5" fill="#3ad9a0" stroke="#000" stroke-width="1.0"/>
<path d="M188.4 385.5H196.6M192.5 381.4V389.6" stroke="#000" stroke-width="0.9"/>
<polygon points="195.5,383.9 200.1,388.5 195.5,393.1 190.9,388.5" fill="#3ad9a0" stroke="#000" stroke-width="1.0"/>
<path d="M191.4 388.5H199.6M195.5 384.4V392.6" stroke="#000" stroke-width="0.9"/>
<polygon points="198.5,387.9 203.1,392.5 198.5,397.1 193.9,392.5" fill="#3ad9a0" stroke="#000" stroke-width="1.0"/>
<path d="M194.4 392.5H202.6M198.5 388.4V396.6" stroke="#000" stroke-width="0.9"/>
<polygon points="202.5,392.9 207.1,397.5 202.5,402.1 197.9,397.5" fill="#3ad9a0" stroke="#000" stroke-width="1.0"/>
<path d="M198.4 397.5H206.6M202.5 393.4V401.6" stroke="#000" stroke-width="0.9"/>
<polygon points="204.5,397.9 209.1,402.5 204.5,407.1 199.9,402.5" fill="#3ad9a0" stroke="#000" stroke-width="1.0"/>
<path d="M200.4 402.5H208.6M204.5 398.4V406.6" stroke="#000" stroke-width="0.9"/>
<polygon points="210.5,397.9 215.1,402.5 210.5,407.1 205.9,402.5" fill="#3ad9a0" stroke="#000" stroke-width="1.0"/>
<path d="M206.4 402.5H214.6M210.5 398.4V406.6" stroke="#000" stroke-width="0.9"/>
<polygon points="214.5,378.9 219.1,383.5 214.5,388.1 209.9,383.5" fill="#3ad9a0" stroke="#000" stroke-width="1.0"/>
<path d="M210.4 383.5H218.6M214.5 379.4V387.6" stroke="#000" stroke-width="0.9"/>
<polygon points="225.5,397.9 230.1,402.5 225.5,407.1 220.9,402.5" fill="#3ad9a0" stroke="#000" stroke-width="1.0"/>
<path d="M221.4 402.5H229.6M225.5 398.4V406.6" stroke="#000" stroke-width="0.9"/>
<polygon points="216.5,404.9 221.1,409.5 216.5,414.1 211.9,409.5" fill="#3ad9a0" stroke="#000" stroke-width="1.0"/>
<path d="M212.4 409.5H220.6M216.5 405.4V413.6" stroke="#000" stroke-width="0.9"/>
<text x="349.6" y="279.4" font-size="17.5" text-anchor="start" fill="#111" >D</text>
<line x1="389.5" y1="285.5" x2="389.5" y2="453" stroke="#111" stroke-width="1.8" />
<line x1="385.5" y1="448.4" x2="389.5" y2="448.4" stroke="#111" stroke-width="1.8" />
<text x="382.6" y="453.0" font-size="13" text-anchor="end" fill="#111" >0</text>
<line x1="385.5" y1="374.75" x2="389.5" y2="374.75" stroke="#111" stroke-width="1.8" />
<text x="382.6" y="379.35" font-size="13" text-anchor="end" fill="#111" >5</text>
<line x1="385.5" y1="301.09999999999997" x2="389.5" y2="301.09999999999997" stroke="#111" stroke-width="1.8" />
<text x="382.6" y="305.7" font-size="13" text-anchor="end" fill="#111" >10</text>
<line x1="385.5" y1="448.4" x2="633.2" y2="448.4" stroke="#111" stroke-width="1.8" />
<line x1="389.8" y1="448.4" x2="389.8" y2="453" stroke="#111" stroke-width="1.8" />
<text x="389.8" y="467.8" font-size="13" text-anchor="middle" fill="#111" >0</text>
<line x1="470.94" y1="448.4" x2="470.94" y2="453" stroke="#111" stroke-width="1.8" />
<text x="470.94" y="467.8" font-size="13" text-anchor="middle" fill="#111" >2</text>
<line x1="552.08" y1="448.4" x2="552.08" y2="453" stroke="#111" stroke-width="1.8" />
<text x="552.08" y="467.8" font-size="13" text-anchor="middle" fill="#111" >4</text>
<line x1="633.22" y1="448.4" x2="633.22" y2="453" stroke="#111" stroke-width="1.8" />
<text x="633.22" y="467.8" font-size="13" text-anchor="middle" fill="#111" >6</text>
<text x="511" y="486.4" font-size="13.3" text-anchor="middle" fill="#111" >Relative POU3F3 level</text>
<text transform="translate(360.2,366.75) rotate(-90)" font-size="13.2" text-anchor="middle" fill="#111">Relative MEG3 level</text>
<text x="514.2" y="291.1" font-size="11.9" text-anchor="start" fill="#111" >R square = 0.04157</text>
<text x="514.2" y="306.0" font-size="11.9" text-anchor="start" fill="#111" >P value = 0.1150</text>
<text x="514.2" y="321.0" font-size="11.85" text-anchor="start" fill="#111" >Equation: Y = 0.2816*X + 3.748</text>
<line x1="430.25" y1="389.043992" x2="596.904" y2="371.95436384" stroke="#f00" stroke-width="2.4" />
<polygon points="444.5,341.4 448.6,345.5 444.5,349.6 440.4,345.5" fill="#3ad9a0" stroke="#000" stroke-width="0.9"/>
<path d="M440.8 345.5H448.2M444.5 341.8V349.2" stroke="#000" stroke-width="0.8"/>
<polygon points="442.5,351.4 446.6,355.5 442.5,359.6 438.4,355.5" fill="#3ad9a0" stroke="#000" stroke-width="0.9"/>
<path d="M438.8 355.5H446.2M442.5 351.8V359.2" stroke="#000" stroke-width="0.8"/>
<polygon points="450.5,354.4 454.6,358.5 450.5,362.6 446.4,358.5" fill="#3ad9a0" stroke="#000" stroke-width="0.9"/>
<path d="M446.8 358.5H454.2M450.5 354.8V362.2" stroke="#000" stroke-width="0.8"/>
<polygon points="444.5,361.4 448.6,365.5 444.5,369.6 440.4,365.5" fill="#3ad9a0" stroke="#000" stroke-width="0.9"/>
<path d="M440.8 365.5H448.2M444.5 361.8V369.2" stroke="#000" stroke-width="0.8"/>
<polygon points="439.5,366.4 443.6,370.5 439.5,374.6 435.4,370.5" fill="#3ad9a0" stroke="#000" stroke-width="0.9"/>
<path d="M435.8 370.5H443.2M439.5 366.8V374.2" stroke="#000" stroke-width="0.8"/>
<polygon points="474.5,361.4 478.6,365.5 474.5,369.6 470.4,365.5" fill="#3ad9a0" stroke="#000" stroke-width="0.9"/>
<path d="M470.8 365.5H478.2M474.5 361.8V369.2" stroke="#000" stroke-width="0.8"/>
<polygon points="484.5,337.4 488.6,341.5 484.5,345.6 480.4,341.5" fill="#3ad9a0" stroke="#000" stroke-width="0.9"/>
<path d="M480.8 341.5H488.2M484.5 337.8V345.2" stroke="#000" stroke-width="0.8"/>
<polygon points="486.5,352.4 490.6,356.5 486.5,360.6 482.4,356.5" fill="#3ad9a0" stroke="#000" stroke-width="0.9"/>
<path d="M482.8 356.5H490.2M486.5 352.8V360.2" stroke="#000" stroke-width="0.8"/>
<polygon points="493.5,352.4 497.6,356.5 493.5,360.6 489.4,356.5" fill="#3ad9a0" stroke="#000" stroke-width="0.9"/>
<path d="M489.8 356.5H497.2M493.5 352.8V360.2" stroke="#000" stroke-width="0.8"/>
<polygon points="498.5,357.4 502.6,361.5 498.5,365.6 494.4,361.5" fill="#3ad9a0" stroke="#000" stroke-width="0.9"/>
<path d="M494.8 361.5H502.2M498.5 357.8V365.2" stroke="#000" stroke-width="0.8"/>
<polygon points="506.5,356.4 510.6,360.5 506.5,364.6 502.4,360.5" fill="#3ad9a0" stroke="#000" stroke-width="0.9"/>
<path d="M502.8 360.5H510.2M506.5 356.8V364.2" stroke="#000" stroke-width="0.8"/>
<polygon points="510.5,337.4 514.6,341.5 510.5,345.6 506.4,341.5" fill="#3ad9a0" stroke="#000" stroke-width="0.9"/>
<path d="M506.8 341.5H514.2M510.5 337.8V345.2" stroke="#000" stroke-width="0.8"/>
<polygon points="520.5,361.4 524.6,365.5 520.5,369.6 516.4,365.5" fill="#3ad9a0" stroke="#000" stroke-width="0.9"/>
<path d="M516.8 365.5H524.2M520.5 361.8V369.2" stroke="#000" stroke-width="0.8"/>
<polygon points="529.5,336.4 533.6,340.5 529.5,344.6 525.4,340.5" fill="#3ad9a0" stroke="#000" stroke-width="0.9"/>
<path d="M525.8 340.5H533.2M529.5 336.8V344.2" stroke="#000" stroke-width="0.8"/>
<polygon points="533.5,341.4 537.6,345.5 533.5,349.6 529.4,345.5" fill="#3ad9a0" stroke="#000" stroke-width="0.9"/>
<path d="M529.8 345.5H537.2M533.5 341.8V349.2" stroke="#000" stroke-width="0.8"/>
<polygon points="439.5,367.4 443.6,371.5 439.5,375.6 435.4,371.5" fill="#3ad9a0" stroke="#000" stroke-width="0.9"/>
<path d="M435.8 371.5H443.2M439.5 367.8V375.2" stroke="#000" stroke-width="0.8"/>
<polygon points="430.5,375.4 434.6,379.5 430.5,383.6 426.4,379.5" fill="#3ad9a0" stroke="#000" stroke-width="0.9"/>
<path d="M426.8 379.5H434.2M430.5 375.8V383.2" stroke="#000" stroke-width="0.8"/>
<polygon points="438.5,377.4 442.6,381.5 438.5,385.6 434.4,381.5" fill="#3ad9a0" stroke="#000" stroke-width="0.9"/>
<path d="M434.8 381.5H442.2M438.5 377.8V385.2" stroke="#000" stroke-width="0.8"/>
<polygon points="443.5,376.4 447.6,380.5 443.5,384.6 439.4,380.5" fill="#3ad9a0" stroke="#000" stroke-width="0.9"/>
<path d="M439.8 380.5H447.2M443.5 376.8V384.2" stroke="#000" stroke-width="0.8"/>
<polygon points="444.5,380.4 448.6,384.5 444.5,388.6 440.4,384.5" fill="#3ad9a0" stroke="#000" stroke-width="0.9"/>
<path d="M440.8 384.5H448.2M444.5 380.8V388.2" stroke="#000" stroke-width="0.8"/>
<polygon points="443.5,388.4 447.6,392.5 443.5,396.6 439.4,392.5" fill="#3ad9a0" stroke="#000" stroke-width="0.9"/>
<path d="M439.8 392.5H447.2M443.5 388.8V396.2" stroke="#000" stroke-width="0.8"/>
<polygon points="442.5,394.4 446.6,398.5 442.5,402.6 438.4,398.5" fill="#3ad9a0" stroke="#000" stroke-width="0.9"/>
<path d="M438.8 398.5H446.2M442.5 394.8V402.2" stroke="#000" stroke-width="0.8"/>
<polygon points="429.5,397.4 433.6,401.5 429.5,405.6 425.4,401.5" fill="#3ad9a0" stroke="#000" stroke-width="0.9"/>
<path d="M425.8 401.5H433.2M429.5 397.8V405.2" stroke="#000" stroke-width="0.8"/>
<polygon points="434.5,401.4 438.6,405.5 434.5,409.6 430.4,405.5" fill="#3ad9a0" stroke="#000" stroke-width="0.9"/>
<path d="M430.8 405.5H438.2M434.5 401.8V409.2" stroke="#000" stroke-width="0.8"/>
<polygon points="438.5,403.4 442.6,407.5 438.5,411.6 434.4,407.5" fill="#3ad9a0" stroke="#000" stroke-width="0.9"/>
<path d="M434.8 407.5H442.2M438.5 403.8V411.2" stroke="#000" stroke-width="0.8"/>
<polygon points="455.5,377.4 459.6,381.5 455.5,385.6 451.4,381.5" fill="#3ad9a0" stroke="#000" stroke-width="0.9"/>
<path d="M451.8 381.5H459.2M455.5 377.8V385.2" stroke="#000" stroke-width="0.8"/>
<polygon points="461.5,382.4 465.6,386.5 461.5,390.6 457.4,386.5" fill="#3ad9a0" stroke="#000" stroke-width="0.9"/>
<path d="M457.8 386.5H465.2M461.5 382.8V390.2" stroke="#000" stroke-width="0.8"/>
<polygon points="465.5,372.4 469.6,376.5 465.5,380.6 461.4,376.5" fill="#3ad9a0" stroke="#000" stroke-width="0.9"/>
<path d="M461.8 376.5H469.2M465.5 372.8V380.2" stroke="#000" stroke-width="0.8"/>
<polygon points="470.5,378.4 474.6,382.5 470.5,386.6 466.4,382.5" fill="#3ad9a0" stroke="#000" stroke-width="0.9"/>
<path d="M466.8 382.5H474.2M470.5 378.8V386.2" stroke="#000" stroke-width="0.8"/>
<polygon points="465.5,392.4 469.6,396.5 465.5,400.6 461.4,396.5" fill="#3ad9a0" stroke="#000" stroke-width="0.9"/>
<path d="M461.8 396.5H469.2M465.5 392.8V400.2" stroke="#000" stroke-width="0.8"/>
<polygon points="465.5,396.4 469.6,400.5 465.5,404.6 461.4,400.5" fill="#3ad9a0" stroke="#000" stroke-width="0.9"/>
<path d="M461.8 400.5H469.2M465.5 396.8V404.2" stroke="#000" stroke-width="0.8"/>
<polygon points="474.5,390.4 478.6,394.5 474.5,398.6 470.4,394.5" fill="#3ad9a0" stroke="#000" stroke-width="0.9"/>
<path d="M470.8 394.5H478.2M474.5 390.8V398.2" stroke="#000" stroke-width="0.8"/>
<polygon points="460.5,404.4 464.6,408.5 460.5,412.6 456.4,408.5" fill="#3ad9a0" stroke="#000" stroke-width="0.9"/>
<path d="M456.8 408.5H464.2M460.5 404.8V412.2" stroke="#000" stroke-width="0.8"/>
<polygon points="466.5,406.4 470.6,410.5 466.5,414.6 462.4,410.5" fill="#3ad9a0" stroke="#000" stroke-width="0.9"/>
<path d="M462.8 410.5H470.2M466.5 406.8V414.2" stroke="#000" stroke-width="0.8"/>
<polygon points="452.5,410.4 456.6,414.5 452.5,418.6 448.4,414.5" fill="#3ad9a0" stroke="#000" stroke-width="0.9"/>
<path d="M448.8 414.5H456.2M452.5 410.8V418.2" stroke="#000" stroke-width="0.8"/>
<polygon points="458.5,412.4 462.6,416.5 458.5,420.6 454.4,416.5" fill="#3ad9a0" stroke="#000" stroke-width="0.9"/>
<path d="M454.8 416.5H462.2M458.5 412.8V420.2" stroke="#000" stroke-width="0.8"/>
<polygon points="479.5,399.4 483.6,403.5 479.5,407.6 475.4,403.5" fill="#3ad9a0" stroke="#000" stroke-width="0.9"/>
<path d="M475.8 403.5H483.2M479.5 399.8V407.2" stroke="#000" stroke-width="0.8"/>
<polygon points="475.5,404.4 479.6,408.5 475.5,412.6 471.4,408.5" fill="#3ad9a0" stroke="#000" stroke-width="0.9"/>
<path d="M471.8 408.5H479.2M475.5 404.8V412.2" stroke="#000" stroke-width="0.8"/>
<polygon points="484.5,380.4 488.6,384.5 484.5,388.6 480.4,384.5" fill="#3ad9a0" stroke="#000" stroke-width="0.9"/>
<path d="M480.8 384.5H488.2M484.5 380.8V388.2" stroke="#000" stroke-width="0.8"/>
<polygon points="489.5,378.4 493.6,382.5 489.5,386.6 485.4,382.5" fill="#3ad9a0" stroke="#000" stroke-width="0.9"/>
<path d="M485.8 382.5H493.2M489.5 378.8V386.2" stroke="#000" stroke-width="0.8"/>
<polygon points="493.5,391.4 497.6,395.5 493.5,399.6 489.4,395.5" fill="#3ad9a0" stroke="#000" stroke-width="0.9"/>
<path d="M489.8 395.5H497.2M493.5 391.8V399.2" stroke="#000" stroke-width="0.8"/>
<polygon points="493.5,396.4 497.6,400.5 493.5,404.6 489.4,400.5" fill="#3ad9a0" stroke="#000" stroke-width="0.9"/>
<path d="M489.8 400.5H497.2M493.5 396.8V404.2" stroke="#000" stroke-width="0.8"/>
<polygon points="520.5,374.4 524.6,378.5 520.5,382.6 516.4,378.5" fill="#3ad9a0" stroke="#000" stroke-width="0.9"/>
<path d="M516.8 378.5H524.2M520.5 374.8V382.2" stroke="#000" stroke-width="0.8"/>
<polygon points="528.5,377.4 532.6,381.5 528.5,385.6 524.4,381.5" fill="#3ad9a0" stroke="#000" stroke-width="0.9"/>
<path d="M524.8 381.5H532.2M528.5 377.8V385.2" stroke="#000" stroke-width="0.8"/>
<polygon points="520.5,387.4 524.6,391.5 520.5,395.6 516.4,391.5" fill="#3ad9a0" stroke="#000" stroke-width="0.9"/>
<path d="M516.8 391.5H524.2M520.5 387.8V395.2" stroke="#000" stroke-width="0.8"/>
<polygon points="516.5,397.4 520.6,401.5 516.5,405.6 512.4,401.5" fill="#3ad9a0" stroke="#000" stroke-width="0.9"/>
<path d="M512.8 401.5H520.2M516.5 397.8V405.2" stroke="#000" stroke-width="0.8"/>
<polygon points="524.5,415.4 528.6,419.5 524.5,423.6 520.4,419.5" fill="#3ad9a0" stroke="#000" stroke-width="0.9"/>
<path d="M520.8 419.5H528.2M524.5 415.8V423.2" stroke="#000" stroke-width="0.8"/>
<polygon points="542.5,394.4 546.6,398.5 542.5,402.6 538.4,398.5" fill="#3ad9a0" stroke="#000" stroke-width="0.9"/>
<path d="M538.8 398.5H546.2M542.5 394.8V402.2" stroke="#000" stroke-width="0.8"/>
<polygon points="561.5,391.4 565.6,395.5 561.5,399.6 557.4,395.5" fill="#3ad9a0" stroke="#000" stroke-width="0.9"/>
<path d="M557.8 395.5H565.2M561.5 391.8V399.2" stroke="#000" stroke-width="0.8"/>
<polygon points="566.5,390.4 570.6,394.5 566.5,398.6 562.4,394.5" fill="#3ad9a0" stroke="#000" stroke-width="0.9"/>
<path d="M562.8 394.5H570.2M566.5 390.8V398.2" stroke="#000" stroke-width="0.8"/>
<polygon points="566.5,402.4 570.6,406.5 566.5,410.6 562.4,406.5" fill="#3ad9a0" stroke="#000" stroke-width="0.9"/>
<path d="M562.8 406.5H570.2M566.5 402.8V410.2" stroke="#000" stroke-width="0.8"/>
<polygon points="583.5,386.4 587.6,390.5 583.5,394.6 579.4,390.5" fill="#3ad9a0" stroke="#000" stroke-width="0.9"/>
<path d="M579.8 390.5H587.2M583.5 386.8V394.2" stroke="#000" stroke-width="0.8"/>
<polygon points="564.5,337.4 568.6,341.5 564.5,345.6 560.4,341.5" fill="#3ad9a0" stroke="#000" stroke-width="0.9"/>
<path d="M560.8 341.5H568.2M564.5 337.8V345.2" stroke="#000" stroke-width="0.8"/>
<polygon points="561.5,350.4 565.6,354.5 561.5,358.6 557.4,354.5" fill="#3ad9a0" stroke="#000" stroke-width="0.9"/>
<path d="M557.8 354.5H565.2M561.5 350.8V358.2" stroke="#000" stroke-width="0.8"/>
<polygon points="597.5,360.4 601.6,364.5 597.5,368.6 593.4,364.5" fill="#3ad9a0" stroke="#000" stroke-width="0.9"/>
<path d="M593.8 364.5H601.2M597.5 360.8V368.2" stroke="#000" stroke-width="0.8"/>
<polygon points="448.5,428.4 452.6,432.5 448.5,436.6 444.4,432.5" fill="#3ad9a0" stroke="#000" stroke-width="0.9"/>
<path d="M444.8 432.5H452.2M448.5 428.8V436.2" stroke="#000" stroke-width="0.8"/>
<polygon points="507.5,382.4 511.6,386.5 507.5,390.6 503.4,386.5" fill="#3ad9a0" stroke="#000" stroke-width="0.9"/>
<path d="M503.8 386.5H511.2M507.5 382.8V390.2" stroke="#000" stroke-width="0.8"/>
<polygon points="511.5,382.4 515.6,386.5 511.5,390.6 507.4,386.5" fill="#3ad9a0" stroke="#000" stroke-width="0.9"/>
<path d="M507.8 386.5H515.2M511.5 382.8V390.2" stroke="#000" stroke-width="0.8"/>
<polygon points="506.5,389.4 510.6,393.5 506.5,397.6 502.4,393.5" fill="#3ad9a0" stroke="#000" stroke-width="0.9"/>
<path d="M502.8 393.5H510.2M506.5 389.8V397.2" stroke="#000" stroke-width="0.8"/>
</svg>
</body></html>
